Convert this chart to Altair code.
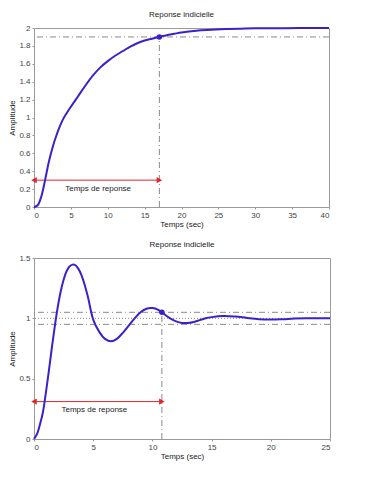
import altair as alt
import pandas as pd

# ---------- data ----------
t_top = [0, 0.5, 1, 1.5, 2, 2.5, 3, 3.5, 4, 5, 6, 7, 8, 9, 10, 11, 12, 13, 14,
         15, 16, 17, 18, 19, 20, 22, 24, 26, 28, 30, 33, 36, 40]
y_top = [0, 0.02, 0.12, 0.3, 0.5, 0.66, 0.79, 0.9, 0.99, 1.12, 1.24, 1.36, 1.47,
         1.56, 1.63, 1.69, 1.74, 1.79, 1.83, 1.86, 1.88, 1.90, 1.92, 1.935, 1.95,
         1.97, 1.98, 1.988, 1.993, 1.996, 1.998, 1.999, 2.0]

t_bot = [0, 0.25, 0.5, 0.75, 1.0, 1.25, 1.5, 1.75, 2.0, 2.25, 2.5, 2.75, 3.0,
         3.25, 3.5, 3.75, 4.0, 4.5, 5.0, 5.5, 6.0, 6.5, 7.0, 7.5, 8.0, 8.5, 9.0,
         9.5, 10.0, 10.5, 10.8, 11.0, 11.5, 12.0, 12.5, 13.0, 13.5, 14.0, 14.5,
         15.0, 16.0, 17.0, 18.0, 19.0, 20.0, 21.0, 22.0, 23.0, 25.0]
y_bot = [0, 0.04, 0.12, 0.22, 0.38, 0.56, 0.75, 0.93, 1.09, 1.22, 1.32, 1.39,
         1.43, 1.445, 1.44, 1.41, 1.36, 1.2, 0.99, 0.89, 0.83, 0.81, 0.83, 0.88,
         0.94, 1.0, 1.05, 1.08, 1.085, 1.07, 1.05, 1.035, 1.0, 0.975, 0.962,
         0.962, 0.97, 0.985, 1.0, 1.01, 1.02, 1.015, 1.003, 0.993, 0.99, 0.993,
         0.998, 1.0, 1.0]

title_text = "Reponse indicielle"
x_title = "Temps (sec)"
y_title = "Amplitude"
arrow_label = "Temps de reponse"

# top panel annotations
top_x_ticks = [0, 5, 10, 15, 20, 25, 30, 35, 40]
top_y_ticks = [0, 0.2, 0.4, 0.6, 0.8, 1, 1.2, 1.4, 1.6, 1.8, 2]
top_levels = [1.9]
top_ts, top_level = 17, 1.9
top_arrow_y = 0.3
top_text = (8.7, 0.2)

# bottom panel annotations
bot_x_ticks = [0, 5, 10, 15, 20, 25]
bot_y_ticks = [0, 0.5, 1, 1.5]
bot_levels = [1.05, 0.95]
bot_final = [1.0]
bot_ts, bot_level = 10.8, 1.05
bot_arrow_y = 0.31
bot_text = (5.1, 0.24)

FONT = "Liberation Sans"
BLUE = "#3a22c8"
RED = "#e0262a"
GREY = "#8a8a8a"
DASHDOT = [6, 3, 1, 3]


def panel(t, y, xmax, xticks, ymax, yticks, levels, ts, level, arrow_y, text_xy,
          w, h, dotted=None):
    xs = alt.Scale(domain=[0, xmax], nice=False, zero=False)
    ys = alt.Scale(domain=[0, ymax], nice=False, zero=False)
    common = dict(format="~g", labelOverlap=False, labelBound=False, grid=False,
                  domain=False, tickSize=2, tickColor="#9a9a9a", labelFont=FONT,
                  labelFontSize=8, labelColor="#444", labelPadding=2,
                  titleFont=FONT, titleFontSize=8, titleFontWeight="normal",
                  titleColor="#222")
    xax = alt.Axis(values=xticks, title=x_title, titlePadding=1, **common)
    yax = alt.Axis(values=yticks, title=y_title, titlePadding=2, **common)

    def X(f):
        return alt.X(f, scale=xs, axis=xax)

    def Y(f):
        return alt.Y(f, scale=ys, axis=yax)

    curve = alt.Chart(pd.DataFrame({"t": t, "y": y})).mark_line(
        color=BLUE, strokeWidth=2, interpolate="catmull-rom"
    ).encode(x=X("t:Q"), y=Y("y:Q"))

    hl = alt.Chart(pd.DataFrame({"y": levels})).mark_rule(
        color=GREY, strokeWidth=1, strokeDash=DASHDOT
    ).encode(y=Y("y:Q"))

    vl = alt.Chart(pd.DataFrame({"x": [ts], "y0": [0], "y1": [level]})).mark_rule(
        color=GREY, strokeWidth=1, strokeDash=DASHDOT
    ).encode(x=X("x:Q"), y=Y("y0:Q"), y2="y1:Q")

    pt = alt.Chart(pd.DataFrame({"x": [ts], "y": [level]})).mark_point(
        filled=True, color=BLUE, size=30, opacity=1
    ).encode(x=X("x:Q"), y=Y("y:Q"))

    arr = alt.Chart(pd.DataFrame({"x0": [0], "x1": [ts], "y": [arrow_y]})).mark_rule(
        color=RED, strokeWidth=1
    ).encode(x=X("x0:Q"), x2="x1:Q", y=Y("y:Q"))

    heads = alt.Chart(pd.DataFrame({
        "x": [0, ts], "y": [arrow_y, arrow_y],
        "shape": ["triangle-left", "triangle-right"],
    })).mark_point(filled=True, color=RED, size=40, opacity=1).encode(
        x=X("x:Q"), y=Y("y:Q"),
        shape=alt.Shape("shape:N", scale=None, legend=None),
    )

    txt = alt.Chart(pd.DataFrame({"x": [text_xy[0]], "y": [text_xy[1]], "s": [arrow_label]})).mark_text(
        font=FONT, fontSize=8, color="#222"
    ).encode(x=X("x:Q"), y=Y("y:Q"), text="s:N")

    layers = [hl]
    if dotted is not None:
        layers.append(alt.Chart(pd.DataFrame({"y": dotted})).mark_rule(
            color=GREY, strokeWidth=1, strokeDash=[1, 2]
        ).encode(y=Y("y:Q")))
    layers += [vl, arr, heads, txt, curve, pt]

    return alt.layer(*layers).properties(
        width=w, height=h,
        title=alt.TitleParams(title_text, fontSize=8, fontWeight="normal",
                              font=FONT, color="#222", offset=5),
    )


top = panel(t_top, y_top, 40, top_x_ticks, 2, top_y_ticks, top_levels,
            top_ts, top_level, top_arrow_y, top_text, 295, 179)
bot = panel(t_bot, y_bot, 25, bot_x_ticks, 1.5, bot_y_ticks, bot_levels,
            bot_ts, bot_level, bot_arrow_y, bot_text, 296, 181, dotted=bot_final)

chart = alt.vconcat(top, bot, spacing=11).properties(
    padding={"left": 0, "top": 2, "right": 0, "bottom": 0}
).configure_view(stroke="#9a9a9a", strokeWidth=1)

chart.save("out.html", embed_options={"renderer": "svg", "actions": False})
